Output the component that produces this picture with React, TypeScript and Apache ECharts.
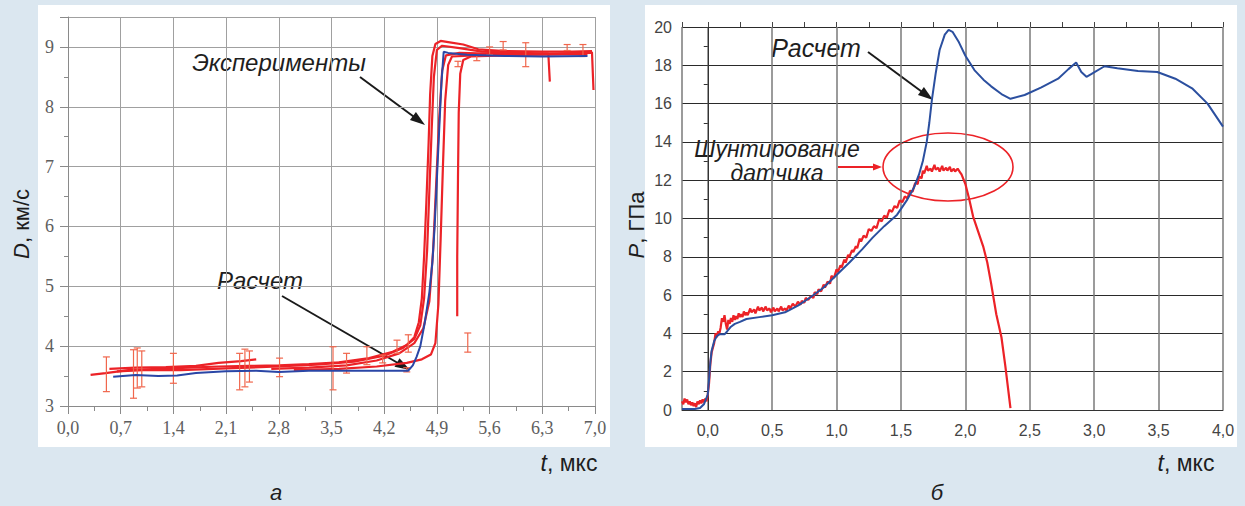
import React, { useEffect, useRef } from 'react';
import * as echarts from 'echarts';

const W = 1245;
const H = 506;

// ---- Panel a: detonation velocity D (km/s) vs t (µs) ----
const calcD: [number, number][] = [
  [0.6, 3.49], [0.9, 3.52], [1.2, 3.5], [1.45, 3.51], [1.7, 3.55], [2.1, 3.58], [2.5, 3.59], [2.8, 3.57],
  [3.2, 3.59], [3.8, 3.59], [4.52, 3.59], [4.58, 3.68], [4.63, 3.82], [4.68, 4.0], [4.74, 4.4], [4.8, 4.9],
  [4.84, 5.4], [4.87, 6.0], [4.9, 6.8], [4.93, 7.6], [4.96, 8.4], [4.99, 8.92], [5.05, 8.9], [5.3, 8.87],
  [5.8, 8.85], [6.3, 8.84], [6.9, 8.85],
];
const expA: [number, number][] = [
  [0.3, 3.52], [0.5, 3.55], [0.8, 3.6], [1.2, 3.62], [1.6, 3.64], [2.0, 3.66], [2.4, 3.67], [2.8, 3.68],
  [3.2, 3.7], [3.6, 3.73], [4.0, 3.8], [4.3, 3.9], [4.5, 4.02], [4.6, 4.15], [4.66, 4.4], [4.7, 4.8],
  [4.73, 5.5], [4.76, 6.4], [4.79, 7.4], [4.81, 8.2], [4.84, 8.85], [4.88, 9.05], [4.95, 9.1], [5.05, 9.08],
  [5.25, 9.04], [5.45, 8.96], [5.8, 8.93], [6.3, 8.92], [6.7, 8.92], [6.96, 8.93],
];
const expB: [number, number][] = [
  [0.55, 3.62], [0.9, 3.64], [1.3, 3.65], [1.7, 3.67], [2.0, 3.72], [2.3, 3.75], [2.5, 3.78],
];
const expC: [number, number][] = [
  [0.65, 3.58], [1.0, 3.6], [1.5, 3.6], [2.1, 3.63], [2.8, 3.66], [3.3, 3.69], [3.8, 3.74], [4.2, 3.84],
  [4.45, 3.97], [4.6, 4.12], [4.68, 4.35], [4.73, 4.8], [4.77, 5.6], [4.8, 6.6], [4.83, 7.6], [4.86, 8.5],
  [4.9, 8.95], [4.97, 9.02], [5.2, 8.98], [5.5, 8.92], [6.0, 8.9], [6.38, 8.89], [6.4, 8.42],
];
const expD: [number, number][] = [
  [2.7, 3.62], [3.2, 3.64], [3.7, 3.68], [4.1, 3.76], [4.4, 3.88], [4.6, 4.05], [4.72, 4.3], [4.8, 4.75],
  [4.85, 5.6], [4.89, 6.7], [4.93, 7.8], [4.97, 8.6], [5.02, 8.86], [5.2, 8.9], [5.8, 8.88], [6.4, 8.89],
  [6.96, 8.9],
];
const expE: [number, number][] = [
  [3.0, 3.6], [3.6, 3.62], [4.1, 3.66], [4.5, 3.72], [4.7, 3.78], [4.82, 3.86], [4.88, 4.05], [4.92, 4.7],
  [4.95, 5.8], [4.98, 7.0], [5.01, 8.1], [5.05, 8.7], [5.1, 8.84], [5.4, 8.86], [6.0, 8.87], [6.9, 8.88],
];
const expF: [number, number][] = [
  [5.17, 4.5], [5.17, 5.5], [5.18, 6.8], [5.19, 7.9], [5.21, 8.55], [5.25, 8.78], [5.35, 8.84], [5.8, 8.86],
  [6.5, 8.88], [6.96, 8.91], [6.98, 8.28],
];
// error bars: [t, low, high]
const errBars: [number, number, number][] = [
  [0.51, 3.24, 3.82], [0.87, 3.13, 3.94], [0.92, 3.3, 3.97], [0.98, 3.32, 3.92], [1.4, 3.38, 3.88],
  [2.28, 3.27, 3.88], [2.35, 3.32, 3.95], [2.41, 3.4, 3.92], [2.81, 3.49, 3.8], [3.52, 3.27, 3.99],
  [3.7, 3.55, 3.88], [3.97, 3.69, 3.99], [4.18, 3.72, 3.85], [4.37, 3.88, 4.1], [4.52, 3.9, 4.19],
  [4.5, 3.57, 3.64], [5.31, 3.9, 4.22], [5.18, 8.67, 8.76], [5.43, 8.77, 8.87], [5.6, 8.87, 9.0],
  [5.78, 8.95, 9.09], [6.08, 8.67, 9.07], [6.63, 8.94, 9.04], [6.84, 8.84, 9.04],
];

// ---- Panel б: pressure P (GPa) vs t (µs) ----
const calcP: [number, number][] = [
  [-0.2, 0.05], [-0.1, 0.05], [-0.06, 0.1], [-0.03, 0.3], [0.0, 0.8], [0.01, 1.6], [0.02, 2.5], [0.03, 3.1],
  [0.05, 3.6], [0.07, 3.85], [0.09, 3.95], [0.13, 3.95], [0.15, 4.1], [0.18, 4.35], [0.21, 4.5], [0.25, 4.6],
  [0.3, 4.75], [0.4, 4.85], [0.5, 4.95], [0.6, 5.1], [0.7, 5.45], [0.8, 5.9], [0.9, 6.4], [1.0, 7.05],
  [1.1, 7.7], [1.2, 8.4], [1.28, 9.0], [1.37, 9.6], [1.47, 10.2], [1.55, 11.0], [1.6, 11.6], [1.64, 12.3],
  [1.67, 13.0], [1.7, 14.0], [1.72, 15.0], [1.74, 16.2], [1.77, 17.6], [1.8, 18.8], [1.84, 19.6], [1.87, 19.85],
  [1.9, 19.75], [1.95, 19.2], [2.0, 18.5], [2.07, 17.75], [2.14, 17.25], [2.2, 16.9], [2.28, 16.5], [2.35, 16.25],
  [2.46, 16.45], [2.59, 16.85], [2.72, 17.3], [2.8, 17.8], [2.86, 18.15], [2.9, 17.65], [2.94, 17.4], [2.98, 17.55],
  [3.08, 17.95], [3.18, 17.85], [3.34, 17.7], [3.49, 17.65], [3.63, 17.3], [3.76, 16.8], [3.88, 16.0], [4.0, 14.8],
];
const measP: [number, number][] = [
  [-0.2, 0.45], [-0.19, 0.3], [-0.18, 0.6], [-0.17, 0.4], [-0.16, 0.55], [-0.15, 0.3], [-0.14, 0.45],
  [-0.13, 0.25], [-0.12, 0.4], [-0.11, 0.2], [-0.1, 0.35], [-0.09, 0.15], [-0.08, 0.45], [-0.07, 0.3],
  [-0.06, 0.5], [-0.05, 0.35], [-0.04, 0.55], [-0.03, 0.4], [-0.02, 0.6], [-0.01, 0.45], [0.0, 0.8],
  [0.01, 1.4], [0.02, 2.4], [0.03, 3.0], [0.05, 3.5], [0.06, 4.0], [0.07, 3.8], [0.08, 4.1], [0.09, 4.0],
  [0.1, 4.3], [0.11, 4.8], [0.12, 4.6], [0.13, 4.95], [0.14, 4.5], [0.15, 4.2], [0.16, 4.7], [0.17, 4.5],
  [0.18, 4.8], [0.19, 4.6], [0.2, 4.95], [0.21, 4.7], [0.22, 4.9], [0.23, 4.75], [0.24, 5.05], [0.25, 4.85],
  [0.26, 5.0], [0.27, 4.85], [0.28, 5.15], [0.29, 4.95], [0.3, 5.1], [0.31, 4.95], [0.33, 5.3], [0.34, 5.1],
  [0.36, 5.25], [0.37, 5.05], [0.39, 5.4], [0.4, 5.2], [0.42, 5.35], [0.43, 5.15], [0.45, 5.4], [0.46, 5.2],
  [0.48, 5.3], [0.49, 5.1], [0.51, 5.35], [0.52, 5.15], [0.54, 5.3], [0.55, 5.15], [0.57, 5.4], [0.58, 5.2],
  [0.6, 5.3], [0.61, 5.2], [0.63, 5.45], [0.64, 5.3], [0.66, 5.55], [0.68, 5.4], [0.7, 5.65], [0.72, 5.5],
  [0.73, 5.7], [0.75, 5.6], [0.76, 5.85], [0.78, 5.75], [0.8, 5.95], [0.82, 5.85], [0.83, 6.15], [0.85, 6.05],
  [0.86, 6.3], [0.88, 6.2], [0.9, 6.55], [0.91, 6.4], [0.93, 6.7], [0.95, 6.6], [0.96, 7.0], [0.98, 6.9],
  [1.0, 7.35], [1.01, 7.2], [1.03, 7.55], [1.04, 7.45], [1.06, 7.85], [1.07, 7.7], [1.09, 8.1], [1.1, 8.0],
  [1.12, 8.35], [1.13, 8.25], [1.15, 8.55], [1.16, 8.45], [1.18, 8.95], [1.19, 8.8], [1.21, 9.1], [1.23, 9.0],
  [1.25, 9.45], [1.27, 9.35], [1.29, 9.6], [1.31, 9.5], [1.33, 9.95], [1.35, 9.85], [1.37, 10.15], [1.39, 10.05],
  [1.41, 10.45], [1.43, 10.35], [1.45, 10.65], [1.47, 10.55], [1.49, 10.95], [1.51, 10.85], [1.53, 11.15],
  [1.55, 11.05], [1.57, 11.45], [1.59, 11.4], [1.61, 11.85], [1.63, 11.8], [1.64, 12.2], [1.66, 12.1],
  [1.67, 12.5], [1.68, 12.35], [1.7, 12.75], [1.71, 12.5], [1.73, 12.6], [1.74, 12.45], [1.76, 12.8],
  [1.77, 12.55], [1.79, 12.65], [1.8, 12.45], [1.82, 12.75], [1.83, 12.5], [1.85, 12.65], [1.86, 12.5],
  [1.88, 12.7], [1.89, 12.45], [1.91, 12.6], [1.92, 12.45], [1.94, 12.6], [1.96, 12.4], [1.97, 12.3],
  [2.0, 11.8], [2.03, 11.0], [2.06, 10.1], [2.1, 9.3], [2.14, 8.5], [2.17, 7.7], [2.2, 6.6], [2.24, 5.0],
  [2.28, 3.8], [2.31, 2.3], [2.35, 0.1],
];

const RED = '#ec2227';
const BLUE = '#2a46a6';
const BLUE2 = '#2b4f9f';
const SANS = 'Liberation Sans';
const SERIF = 'Liberation Serif';

function arrow(x1: number, y1: number, x2: number, y2: number, color: string, lw: number, hl: number, hw: number) {
  const ang = Math.atan2(y2 - y1, x2 - x1);
  const bx = x2 - hl * Math.cos(ang);
  const by = y2 - hl * Math.sin(ang);
  const px = (-Math.sin(ang) * hw) / 2;
  const py = (Math.cos(ang) * hw) / 2;
  return [
    { type: 'line', shape: { x1, y1, x2: bx + Math.cos(ang) * 2, y2: by + Math.sin(ang) * 2 }, style: { stroke: color, lineWidth: lw } },
    { type: 'polygon', shape: { points: [[x2, y2], [bx + px, by + py], [bx - px, by - py]] }, style: { fill: color } },
  ];
}

function label(text: string, x: number, y: number, size: number, opts: any = {}) {
  return {
    type: 'text',
    x,
    y,
    rotation: opts.rotation || 0,
    style: {
      text,
      fontSize: size,
      fontFamily: SANS,
      fontStyle: opts.italic ? 'italic' : 'normal',
      fill: opts.fill || '#1e1e1e',
      textAlign: 'center',
      textVerticalAlign: 'middle',
      lineHeight: opts.lineHeight,
      rich: {
        i: { fontStyle: 'italic', fontSize: size, fontFamily: SANS, fill: opts.fill || '#1e1e1e' },
        n: { fontSize: size, fontFamily: SANS, fill: opts.fill || '#1e1e1e' },
      },
    },
  };
}

const fmtComma = (v: number) => v.toFixed(1).replace('.', ',');

function lineSeries(data: [number, number][], color: string, width: number, axisIdx: number, z = 2) {
  return {
    type: 'line',
    data,
    xAxisIndex: axisIdx,
    yAxisIndex: axisIdx,
    symbol: 'none',
    showSymbol: false,
    lineStyle: { color, width },
    z,
    silent: true,
  };
}

export default function App() {
  const ref = useRef<HTMLDivElement>(null);
  useEffect(() => {
    const chart = echarts.init(ref.current!, undefined, { renderer: 'svg', width: W, height: H });
    const gridA = '#a0a0a0';
    const option: any = {
      animation: false,
      backgroundColor: 'transparent',
      grid: [
        { left: 68, top: 17, width: 527, height: 389 },
        { left: 682, top: 27, width: 541, height: 383 },
      ],
      xAxis: [
        {
          type: 'value', gridIndex: 0, min: 0, max: 7, interval: 0.7,
          axisLine: { lineStyle: { color: '#8a8a8a', width: 1 } },
          axisTick: { show: true, length: 8, lineStyle: { color: '#8a8a8a' } },
          minorTick: { show: true, splitNumber: 2, length: 5, lineStyle: { color: '#8a8a8a' } },
          splitLine: { show: true, lineStyle: { color: gridA, width: 1 } },
          axisLabel: { margin: 13, fontFamily: SERIF, fontSize: 18, color: '#5e5e5e', formatter: fmtComma },
        },
        {
          type: 'value', gridIndex: 1, min: -0.2, max: 4, minInterval: 0.5, maxInterval: 0.5,
          axisLine: { lineStyle: { color: '#333', width: 1 } },
          axisTick: { show: false },
          splitLine: { show: true, lineStyle: { color: '#7a7a7a', width: 1.5 } },
          axisLabel: {
            margin: 12, fontFamily: SANS, fontSize: 16, color: '#444',
            formatter: (v: number) => (Math.abs(v * 2 - Math.round(v * 2)) > 1e-6 ? '' : fmtComma(v)),
          },
        },
        {
          type: 'value', gridIndex: 1, min: -0.2, max: 4, minInterval: 0.25, maxInterval: 0.25,
          axisLine: { show: false },
          axisTick: { show: true, length: 5, lineStyle: { color: '#444' } },
          splitLine: { show: false },
          axisLabel: { show: false },
        },
      ],
      yAxis: [
        {
          type: 'value', gridIndex: 0, min: 3, max: 9.5, interval: 1,
          axisLine: { show: true, lineStyle: { color: '#8a8a8a', width: 1 } },
          axisTick: { show: true, length: 8, lineStyle: { color: '#8a8a8a' } },
          minorTick: { show: true, splitNumber: 2, length: 4, lineStyle: { color: '#8a8a8a' } },
          splitLine: { show: true, lineStyle: { color: gridA, width: 1 } },
          axisLabel: {
            margin: 14, fontFamily: SERIF, fontSize: 18, color: '#5e5e5e',
            formatter: (v: number) => (Number.isInteger(v) ? String(v) : ''),
          },
        },
        {
          type: 'value', gridIndex: 1, min: 0, max: 20, interval: 2,
          axisLine: { show: true, lineStyle: { color: '#333', width: 1 } },
          axisTick: { show: true, length: 5, lineStyle: { color: '#333' } },
          minorTick: { show: true, splitNumber: 2, length: 4, lineStyle: { color: '#333' } },
          splitLine: { show: true, lineStyle: { color: '#2a2a2a', width: 1 } },
          axisLabel: { margin: 10, fontFamily: SANS, fontSize: 16, color: '#444' },
        },
      ],
      series: [
        lineSeries(expA, RED, 2.2, 0),
        lineSeries(expB, RED, 2.2, 0),
        lineSeries(expC, RED, 2.2, 0),
        lineSeries(expD, RED, 2.2, 0),
        lineSeries(expE, RED, 2.2, 0),
        lineSeries(expF, RED, 2.2, 0),
        {
          type: 'custom',
          xAxisIndex: 0,
          yAxisIndex: 0,
          data: errBars,
          encode: { x: 0, y: [1, 2] },
          z: 3,
          silent: true,
          renderItem: (_p: any, api: any) => {
            const t = api.value(0);
            const a = api.coord([t, api.value(1)]);
            const b = api.coord([t, api.value(2)]);
            const st = { stroke: '#f0664c', lineWidth: 1.2 };
            const w = 3.5;
            return {
              type: 'group',
              children: [
                { type: 'line', shape: { x1: a[0], y1: a[1], x2: b[0], y2: b[1] }, style: st },
                { type: 'line', shape: { x1: a[0] - w, y1: a[1], x2: a[0] + w, y2: a[1] }, style: st },
                { type: 'line', shape: { x1: b[0] - w, y1: b[1], x2: b[0] + w, y2: b[1] }, style: st },
              ],
            };
          },
        },
        lineSeries(calcD, BLUE, 2, 0, 4),
        lineSeries(measP, RED, 2.2, 1, 3),
        lineSeries(calcP, BLUE2, 2, 1, 4),
      ],
      graphic: [
        // panel a annotations
        label('Эксперименты', 279, 62, 24, { italic: true }),
        ...arrow(360, 77, 425, 125, '#1a1a1a', 2, 15, 10),
        label('Расчет', 260, 280, 24, { italic: true }),
        ...arrow(282, 296, 410, 370, '#1a1a1a', 2, 15, 10),
        label('{i|D}{n|, км/с}', 21, 224, 22, { rotation: Math.PI / 2 }),
        label('{i|t}{n|, мкс}', 569, 463, 23),
        label('а', 276, 492, 22, { italic: true }),
        // panel б annotations
        label('Расчет', 816, 48, 25, { italic: true }),
        ...arrow(868, 52, 933, 100, '#1a1a1a', 2, 15, 10),
        label('Шунтирование\nдатчика', 777, 161, 23, { italic: true, lineHeight: 24 }),
        ...arrow(838, 167, 882, 167, RED, 2, 9, 7),
        { type: 'ellipse', shape: { cx: 948, cy: 167, rx: 65, ry: 34 }, style: { fill: 'none', stroke: RED, lineWidth: 1.6 } },
        label('{i|P}{n|, ГПа}', 636, 225, 22, { rotation: Math.PI / 2 }),
        label('{i|t}{n|, мкс}', 1186, 463, 23),
        label('б', 937, 492, 22, { italic: true }),
      ],
    };
    chart.setOption(option);
    return () => chart.dispose();
  }, []);
  return (
    <div style={{ position: 'absolute', left: 0, top: 0, width: W, height: H, background: '#dbe7f0', overflow: 'hidden' }}>
      <div style={{ position: 'absolute', left: 38, top: 5, width: 572, height: 442, background: '#ffffff' }} />
      <div style={{ position: 'absolute', left: 645, top: 5, width: 592, height: 442, background: '#ffffff' }} />
      <div ref={ref} style={{ position: 'absolute', left: 0, top: 0, width: W, height: H }} />
    </div>
  );
}
